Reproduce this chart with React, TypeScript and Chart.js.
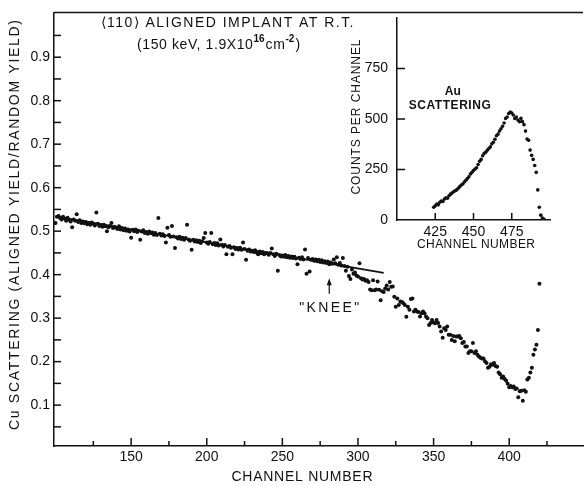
import React, { useEffect, useRef } from 'react';
import { Chart, registerables } from 'chart.js';
Chart.register(...registerables);

const FONT = '"Liberation Sans", Arial, Helvetica, sans-serif';

// ---------- Main plot data (one point per channel from 100) ----------
const mainStartChannel = 100;
const mainRatios = [
  0.519, 0.533, 0.535, 0.530, 0.527, 0.533, 0.529, 0.524, 0.531, 0.526,
  0.522, 0.509, 0.527, 0.524, 0.539, 0.521, 0.525, 0.519, 0.522, 0.518,
  0.521, 0.516, 0.519, 0.515, 0.520, 0.517, 0.513, 0.543, 0.517, 0.512,
  0.514, 0.510, 0.515, 0.511, 0.500, 0.509, 0.512, 0.519, 0.507, 0.510,
  0.508, 0.505, 0.511, 0.504, 0.507, 0.502, 0.506, 0.501, 0.504, 0.499,
  0.485, 0.503, 0.500, 0.504, 0.498, 0.501, 0.480, 0.499, 0.502, 0.496,
  0.498, 0.494, 0.499, 0.495, 0.497, 0.492, 0.496, 0.491, 0.530, 0.494,
  0.490, 0.493, 0.489, 0.474, 0.508, 0.491, 0.487, 0.512, 0.488, 0.461,
  0.486, 0.483, 0.487, 0.482, 0.485, 0.480, 0.484, 0.515, 0.481, 0.478,
  0.457, 0.480, 0.476, 0.479, 0.475, 0.478, 0.473, 0.477, 0.484, 0.496,
  0.474, 0.471, 0.475, 0.496, 0.470, 0.473, 0.468, 0.472, 0.467, 0.481,
  0.469, 0.465, 0.468, 0.447, 0.464, 0.466, 0.462, 0.447, 0.463, 0.459,
  0.461, 0.458, 0.462, 0.457, 0.474, 0.459, 0.434, 0.455, 0.458, 0.453,
  0.455, 0.452, 0.456, 0.451, 0.447, 0.453, 0.449, 0.452, 0.447, 0.450,
  0.449, 0.446, 0.450, 0.460, 0.447, 0.443, 0.448, 0.409, 0.445, 0.442,
  0.444, 0.441, 0.445, 0.440, 0.443, 0.439, 0.442, 0.438, 0.441, 0.437,
  0.424, 0.439, 0.436, 0.440, 0.435, 0.458, 0.402, 0.438, 0.407, 0.434,
  0.436, 0.432, 0.435, 0.431, 0.434, 0.429, 0.433, 0.428, 0.431, 0.427,
  0.430, 0.424, 0.428, 0.425, 0.435, 0.426, 0.440, 0.423, 0.427, 0.421,
  0.438, 0.420, 0.409, 0.418, 0.397, 0.390, 0.412, 0.402, 0.405, 0.398,
  0.396, 0.426, 0.392, 0.389, 0.390, 0.386, 0.387, 0.383, 0.366, 0.364,
  0.387, 0.364, 0.366, 0.384, 0.365, 0.341, 0.362, 0.360, 0.368, 0.375,
  0.366, 0.383, 0.372, 0.373, 0.349, 0.326, 0.345, 0.330, 0.338, 0.337,
  0.334, 0.330, 0.303, 0.326, 0.319, 0.344, 0.345, 0.315, 0.319, 0.315,
  0.314, 0.304, 0.311, 0.315, 0.311, 0.304, 0.300, 0.284, 0.289, 0.296,
  0.290, 0.288, 0.296, 0.289, 0.281, 0.269, 0.255, 0.277, 0.273, 0.281,
  0.262, 0.262, 0.250, 0.259, 0.247, 0.258, 0.258, 0.259, 0.254, 0.243,
  0.245, 0.235, 0.235, 0.220, 0.224, 0.224, 0.243, 0.220, 0.224, 0.216,
  0.212, 0.209, 0.207, 0.207, 0.201, 0.197, 0.186, 0.188, 0.194, 0.193,
  0.197, 0.190, 0.188, 0.175, 0.171, 0.163, 0.166, 0.160, 0.156, 0.149,
  0.141, 0.144, 0.141, 0.143, 0.137, 0.138, 0.118, 0.132, 0.133, 0.110,
  0.134, 0.131, 0.159, 0.163, 0.175, 0.186, 0.216, 0.228, 0.239, 0.273,
  0.379,
];
const fitChannels = [100, 317];
const fitRatios = [0.534, 0.404];

const xTickValues = [125, 150, 175, 200, 225, 250, 275, 300, 325, 350, 375, 400, 425];
const xLabelValues = [150, 200, 250, 300, 350, 400];
const yTickValues = [0.05, 0.1, 0.15, 0.2, 0.25, 0.3, 0.35, 0.4, 0.45, 0.5, 0.55, 0.6, 0.65, 0.7, 0.75, 0.8, 0.85, 0.9, 0.95];
const yLabelValues = [0.1, 0.2, 0.3, 0.4, 0.5, 0.6, 0.7, 0.8, 0.9];

const kneeChannel = 281;

// ---------- Inset data (Au scattering) ----------
const insetStartChannel = 424;
const insetCounts = [
  63, 70, 79, 75, 88, 94, 92, 104, 110, 108,
  120, 128, 134, 140, 145, 149, 157, 165, 173, 178,
  188, 197, 205, 214, 228, 236, 245, 252, 259, 275,
  291, 300, 318, 330, 335, 345, 354, 362, 377, 385,
  400, 417, 425, 440, 452, 464, 480, 503, 510, 527,
  534, 530, 520, 503, 510, 495, 487, 503, 487, 472,
  440, 401, 395, 346, 320, 300, 270, 236, 149, 63,
  24, 10, 5,
];
const insetXTicks = [425, 450, 475];
const insetYTicks = [250, 500, 750];
const insetYLabels = [0, 250, 500, 750];

function spacedText(ctx: CanvasRenderingContext2D, text: string, x: number, y: number, target: number) {
  (ctx as any).letterSpacing = '0px';
  const w = ctx.measureText(text).width;
  const n = Array.from(text).length;
  const sp = n > 1 ? Math.max(0, (target - w) / (n - 1)) : 0;
  (ctx as any).letterSpacing = sp + 'px';
  ctx.textAlign = 'left';
  ctx.fillText(text, x - target / 2, y);
  (ctx as any).letterSpacing = '0px';
}

function seg(ctx: CanvasRenderingContext2D, x1: number, y1: number, x2: number, y2: number) {
  ctx.beginPath();
  ctx.moveTo(x1, y1);
  ctx.lineTo(x2, y2);
  ctx.stroke();
}

const mainDecor = {
  id: 'mainDecor',
  afterDraw(chart: any) {
    const { ctx, chartArea: a, scales } = chart;
    const x = scales.x, y = scales.y;
    ctx.save();
    ctx.strokeStyle = '#111';
    ctx.fillStyle = '#111';
    ctx.lineWidth = 1.5;
    seg(ctx, a.left, a.top, a.right, a.top);
    for (const v of xTickValues) {
      const px = x.getPixelForValue(v);
      const len = xLabelValues.includes(v) ? 8 : 5;
      seg(ctx, px, a.bottom, px, a.bottom - len);
    }
    for (const v of yTickValues) {
      const py = y.getPixelForValue(v);
      seg(ctx, a.left, py, a.left + 7, py);
    }
    // KNEE arrow
    const kx = x.getPixelForValue(kneeChannel);
    const tip = y.getPixelForValue(0.392);
    const tail = y.getPixelForValue(0.356);
    ctx.lineWidth = 1.2;
    seg(ctx, kx, tip + 4, kx, tail);
    ctx.beginPath();
    ctx.moveTo(kx, tip);
    ctx.lineTo(kx - 2.5, tip + 7);
    ctx.lineTo(kx + 2.5, tip + 7);
    ctx.closePath();
    ctx.fill();
    ctx.textBaseline = 'middle';
    ctx.font = `14px ${FONT}`;
    spacedText(ctx, '"KNEE"', kx, y.getPixelForValue(0.323), 60);

    // title
    ctx.font = `14px ${FONT}`;
    spacedText(ctx, '\u27E8110\u27E9 ALIGNED IMPLANT AT R.T.', 227, 23, 253);
    const baseY = 45;
    let cx = 137;
    ctx.textAlign = 'left';
    const parts: [string, boolean][] = [['(150 keV, 1.9X10', false], ['16', true], ['cm', false], ['-2', true], [')', false]];
    for (const [t, sup] of parts) {
      ctx.font = sup ? `bold 10px ${FONT}` : `14px ${FONT}`;
      (ctx as any).letterSpacing = sup ? '0px' : '0.6px';
      ctx.fillText(t, cx, sup ? baseY - 6 : baseY);
      cx += ctx.measureText(t).width + (sup ? 1 : 0);
    }
    (ctx as any).letterSpacing = '0px';

    // axis titles
    ctx.font = `14px ${FONT}`;
    ctx.textBaseline = 'middle';
    spacedText(ctx, 'CHANNEL NUMBER', 302, 477, 141);
    ctx.save();
    ctx.translate(15, 225);
    ctx.rotate(-Math.PI / 2);
    spacedText(ctx, 'Cu SCATTERING (ALIGNED YIELD/RANDOM YIELD)', 0, 0, 410);
    ctx.restore();
    ctx.restore();
  },
};

const insetDecor = {
  id: 'insetDecor',
  afterDraw(chart: any) {
    const { ctx, chartArea: a, scales } = chart;
    const x = scales.x, y = scales.y;
    ctx.save();
    ctx.strokeStyle = '#111';
    ctx.fillStyle = '#111';
    ctx.lineWidth = 1.5;
    for (const v of insetXTicks) {
      const px = x.getPixelForValue(v);
      seg(ctx, px, a.bottom, px, a.bottom - 7);
    }
    for (const v of insetYTicks) {
      const py = y.getPixelForValue(v);
      seg(ctx, a.left, py, a.left + 8, py);
    }
    ctx.textBaseline = 'middle';
    ctx.font = `bold 12px ${FONT}`;
    spacedText(ctx, 'Au', x.getPixelForValue(436.5), y.getPixelForValue(633), 16);
    spacedText(ctx, 'SCATTERING', x.getPixelForValue(434.5), y.getPixelForValue(565), 82);
    ctx.font = `12px ${FONT}`;
    spacedText(ctx, 'CHANNEL NUMBER', 476 - 330, 245, 118);
    ctx.save();
    ctx.translate(357 - 330, 117);
    ctx.rotate(-Math.PI / 2);
    spacedText(ctx, 'COUNTS PER CHANNEL', 0, 0, 155);
    ctx.restore();
    ctx.restore();
  },
};

export default function App() {
  const mainRef = useRef<HTMLCanvasElement>(null);
  const insetRef = useRef<HTMLCanvasElement>(null);

  useEffect(() => {
    const tickFont = { family: FONT, size: 14 };
    const mainPoints = mainRatios.map((v, i) => ({ x: mainStartChannel + i, y: v }));
    const fitPoints = fitChannels.map((c, i) => ({ x: c, y: fitRatios[i] }));
    const main = new Chart(mainRef.current!, {
      type: 'scatter',
      data: {
        datasets: [
          { data: mainPoints, pointRadius: 2, pointBackgroundColor: '#111', pointBorderWidth: 0, showLine: false },
          { data: fitPoints, showLine: true, borderColor: '#111', borderWidth: 1.8, pointRadius: 0 },
        ],
      },
      options: {
        animation: false,
        responsive: false,
        devicePixelRatio: 1,
        layout: { padding: { top: 7, right: 0, left: 0, bottom: 0 } },
        plugins: { legend: { display: false }, tooltip: { enabled: false }, title: { display: false } },
        scales: {
          x: {
            type: 'linear', min: 99, max: 448.8,
            afterFit: (s: any) => { s.height = 40; },
            afterBuildTicks: (s: any) => { s.ticks = xTickValues.map(v => ({ value: v })); },
            grid: { display: false, drawTicks: false },
            border: { display: true, color: '#111', width: 1.5 },
            ticks: {
              autoSkip: false, maxRotation: 0, color: '#111', font: tickFont, padding: 3,
              callback: (v: any) => (xLabelValues.includes(v) ? String(v) : ''),
            },
          },
          y: {
            type: 'linear', min: 0.006, max: 1.003,
            afterFit: (s: any) => { s.width = 54; },
            afterBuildTicks: (s: any) => { s.ticks = yTickValues.map(v => ({ value: v })); },
            grid: { display: false, drawTicks: false },
            border: { display: true, color: '#111', width: 1.5 },
            ticks: {
              autoSkip: false, color: '#111', font: tickFont, padding: 4,
              callback: (v: any) => (yLabelValues.includes(v) ? v.toFixed(1) : ''),
            },
          },
        },
      },
      plugins: [mainDecor],
    } as any);

    const insetPoints = insetCounts.map((v, i) => ({ x: insetStartChannel + i, y: v }));
    const inset = new Chart(insetRef.current!, {
      type: 'scatter',
      data: {
        datasets: [
          { data: insetPoints, pointRadius: 1.8, pointBackgroundColor: '#111', pointBorderWidth: 0, showLine: false },
        ],
      },
      options: {
        animation: false,
        responsive: false,
        devicePixelRatio: 1,
        layout: { padding: { top: 7, right: 37, left: 0, bottom: 0 } },
        plugins: { legend: { display: false }, tooltip: { enabled: false }, title: { display: false } },
        scales: {
          x: {
            type: 'linear', min: 400, max: 500,
            afterFit: (s: any) => { s.height = 40; },
            afterBuildTicks: (s: any) => { s.ticks = insetXTicks.map(v => ({ value: v })); },
            grid: { display: false, drawTicks: false },
            border: { display: true, color: '#111', width: 1.5 },
            ticks: { autoSkip: false, maxRotation: 0, color: '#111', font: tickFont, padding: 4 },
          },
          y: {
            type: 'linear', min: 0, max: 1003,
            afterFit: (s: any) => { s.width = 67; },
            afterBuildTicks: (s: any) => { s.ticks = insetYLabels.map(v => ({ value: v })); },
            grid: { display: false, drawTicks: false },
            border: { display: true, color: '#111', width: 1.5 },
            ticks: { autoSkip: false, color: '#111', font: tickFont, padding: 9 },
          },
        },
      },
      plugins: [insetDecor],
    } as any);

    return () => {
      main.destroy();
      inset.destroy();
    };
  }, []);

  return (
    <div style={{ position: 'fixed', left: 0, top: 0, width: 587, height: 486, background: '#fff', overflow: 'hidden' }}>
      <canvas ref={mainRef} width={587} height={486} style={{ position: 'absolute', left: 0, top: 0 }} />
      <canvas ref={insetRef} width={257} height={260} style={{ position: 'absolute', left: 330, top: 0 }} />
    </div>
  );
}
